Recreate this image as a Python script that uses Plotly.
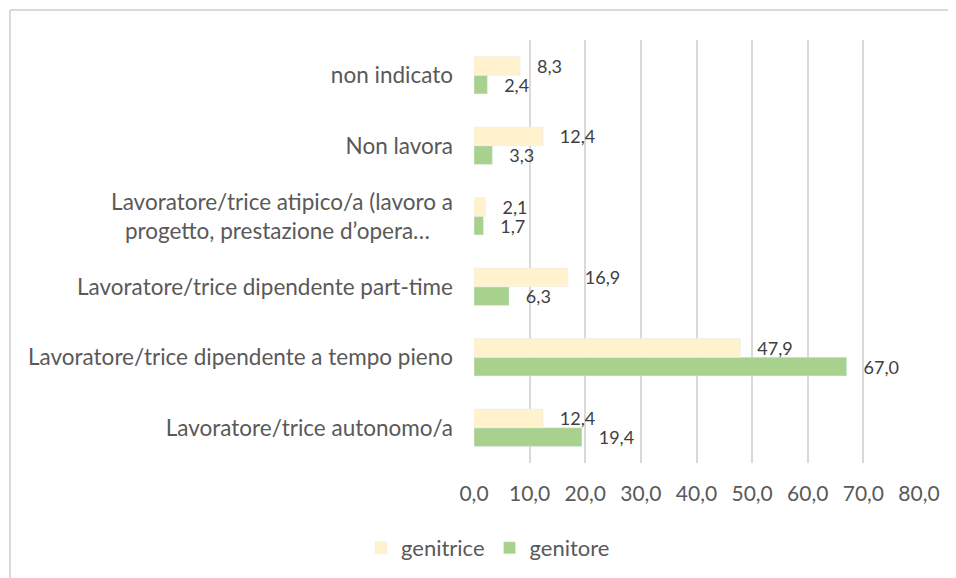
import plotly.graph_objects as go

categories = [
    "Lavoratore/trice autonomo/a",
    "Lavoratore/trice dipendente a tempo pieno",
    "Lavoratore/trice dipendente part-time",
    "Lavoratore/trice atipico/a (lavoro a progetto, prestazione d’opera…",
    "Non lavora",
    "non indicato",
]
tick_labels = [
    "Lavoratore/trice autonomo/a",
    "Lavoratore/trice dipendente a tempo pieno",
    "Lavoratore/trice dipendente part-time",
    "Lavoratore/trice atipico/a (lavoro a<br>progetto, prestazione d’opera…\u00a0\u00a0\u00a0\u00a0",
    "Non lavora",
    "non indicato",
]
genitrice = [12.4, 47.9, 16.9, 2.1, 12.4, 8.3]
genitore = [19.4, 67.0, 6.3, 1.7, 3.3, 2.4]
x_ticks = [0, 10, 20, 30, 40, 50, 60, 70, 80]
x_tick_labels = ["0,0", "10,0", "20,0", "30,0", "40,0", "50,0", "60,0", "70,0", "80,0"]

FONT = "Lato, 'Open Sans', sans-serif"
TXT = "#595959"
PAD = "\u00a0" * 3

# the page body has an 8px margin, so the figure is laid out 8px up/left
L, T, W, H = 466, 32, 445, 423


def fmt(v):
    return PAD + f"{v:.1f}".replace(".", ",")


fig = go.Figure()
fig.add_trace(go.Bar(
    y=categories, x=genitore, name="genitore", orientation="h",
    marker=dict(color="#A9D18E"),
    text=[fmt(v) for v in genitore], textposition="outside",
    textfont=dict(family=FONT, size=18, color="#404040"),
    constraintext="none", cliponaxis=False,
))
fig.add_trace(go.Bar(
    y=categories, x=genitrice, name="genitrice", orientation="h",
    marker=dict(color="#FFF2CC"),
    text=[fmt(v) for v in genitrice], textposition="outside",
    textfont=dict(family=FONT, size=18, color="#404040"),
    constraintext="none", cliponaxis=False,
))

fig.update_layout(
    width=956, height=578,
    margin=dict(l=L, r=956 - L - W, t=T, b=578 - T - H),
    paper_bgcolor="white", plot_bgcolor="white",
    barmode="group", bargap=0.47, bargroupgap=0,
    font=dict(family=FONT, size=22, color=TXT),
    legend=dict(
        orientation="h", x=(488 - 8 - L) / W, xanchor="center",
        y=1 - (548 - 8 - T) / H, yanchor="middle",
        traceorder="reversed", font=dict(size=22, color=TXT),
        itemwidth=30,
    ),
    xaxis=dict(
        range=[0, 80], tickvals=x_ticks, ticktext=x_tick_labels,
        showgrid=True, gridcolor="#D9D9D9", gridwidth=1.5,
        zeroline=False, showline=False, ticks="",
        ticklabelstandoff=16, tickfont=dict(size=21, color=TXT),
    ),
    yaxis=dict(
        tickvals=categories, ticktext=tick_labels,
        showgrid=False, zeroline=False, showline=False, ticks="",
        ticklabelstandoff=20, tickfont=dict(size=22.5, color=TXT),
    ),
    showlegend=True,
)

# chart frame (light grey border, as in the original)
fx0 = (2 - L) / W
fy0 = 1 + (T - 2) / H
fig.add_shape(type="line", xref="paper", yref="paper",
              x0=fx0, x1=(960 - L) / W, y0=fy0, y1=fy0,
              line=dict(color="#D9D9D9", width=2))
fig.add_shape(type="line", xref="paper", yref="paper",
              x0=fx0, x1=fx0, y0=fy0, y1=1 - (580 - T) / H,
              line=dict(color="#D9D9D9", width=2))

fig.write_html("out.html")
